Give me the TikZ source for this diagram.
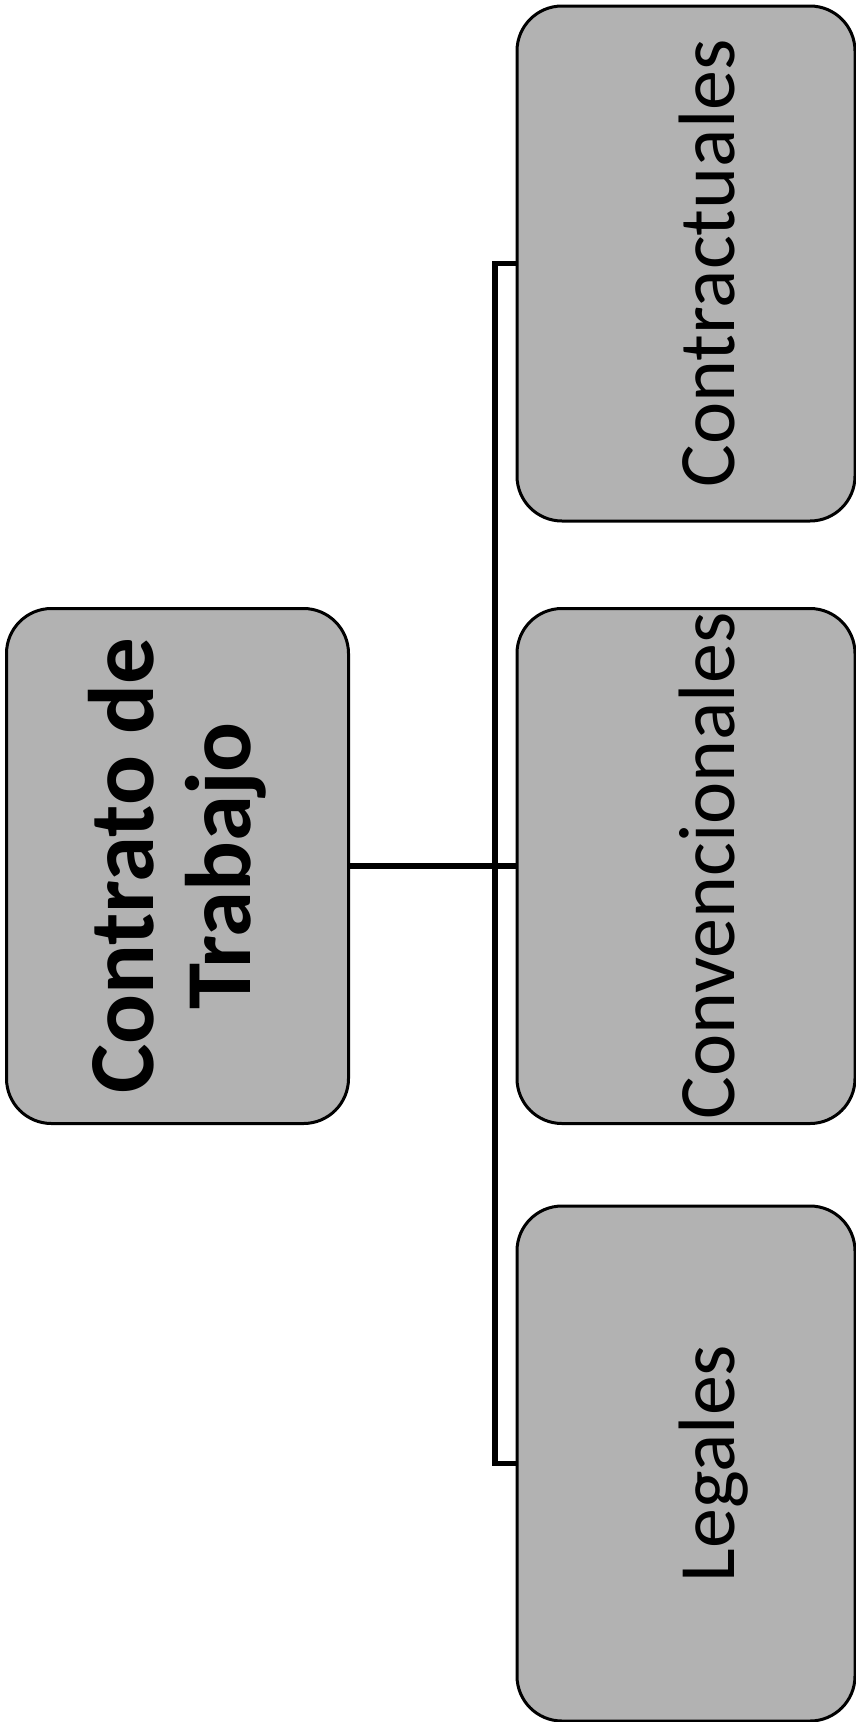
\documentclass[tikz,border=0pt]{standalone}
\usepackage{fontspec}
\setmainfont{Carlito}
\usetikzlibrary{positioning}
\tikzstyle{card} = [draw=black, line width=3pt, fill=black!30, rounded corners=45pt, rotate=90, inner sep=0pt, minimum width=515pt, minimum height=338pt]
\tikzstyle{mainbox} = [card, minimum height=342pt, align=center, font=\bfseries\fontsize{93}{97}\selectfont]
\tikzstyle{subbox} = [card, text height=96pt, text depth=0pt, font=\fontsize{80}{96}\selectfont]
\tikzstyle{conn} = [line width=5.5pt]

\begin{document}
\begin{tikzpicture}
    \useasboundingbox (0,0) rectangle (855pt,-1722pt);

    % Root box
    \node[mainbox] (contrato) at (177.5pt,-866pt) {Contrato de\\Trabajo};

    % Sources
    \node[subbox] (contractuales) at (686pt,-263.5pt) {Contractuales};
    \node[subbox] (convencionales) at (686pt,-866pt) {Convencionales};
    \node[subbox] (legales) at (686pt,-1463.5pt) {Legales};

    % Connectors
    \coordinate (junction) at (495pt,-866pt);
    \draw[conn] (contrato.south) -- (convencionales.north);
    \draw[conn] (contractuales.north) -| (junction) |- (legales.north);
\end{tikzpicture}
\end{document}
